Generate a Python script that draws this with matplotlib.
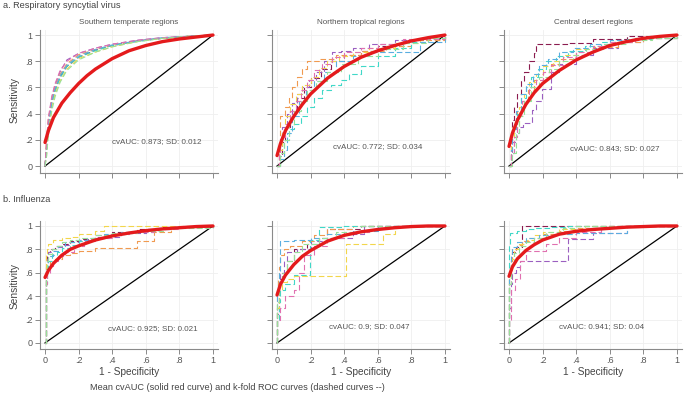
import matplotlib
matplotlib.use("Agg")
import matplotlib.pyplot as plt

plt.rcParams['font.family'] = ['Liberation Sans', 'DejaVu Sans']

# ---------------- data ----------------
fold_colors = ['#8b1c4f', '#9b5fc0', '#f09a50', '#40d8c8', '#f2d64b', '#5aaee0', '#e070b0', '#98e098']
tick_vals = [0, 0.2, 0.4, 0.6, 0.8, 1]
tick_labels = ['0', '.2', '.4', '.6', '.8', '1']

panel_titles = ['Southern temperate regions', 'Northern tropical regions', 'Central desert regions']
auc_texts_rsv = ['cvAUC: 0.873; SD: 0.012', 'cvAUC: 0.772; SD: 0.034', 'cvAUC: 0.843; SD: 0.027']
auc_texts_flu = ['cvAUC: 0.925; SD: 0.021', 'cvAUC: 0.9; SD: 0.047', 'cvAUC: 0.941; SD: 0.04']

# RSV - southern temperate (smooth k-fold curves on common FPR grid)
rsv_south_fpr = [0, .01, .02, .04, .06, .09, .13, .2, .3, .4, .55, .7, .85, 1]
rsv_south_tpr = [
    [0, .14, .31, .48, .58, .68, .76, .83, .885, .92, .955, .975, .99, 1],
    [0, .18, .35, .52, .62, .72, .81, .86, .9, .93, .96, .98, .99, 1],
    [0, .22, .36, .5, .6, .7, .78, .85, .89, .92, .955, .975, .99, 1],
    [0, .12, .3, .47, .57, .67, .76, .83, .88, .92, .95, .975, .99, 1],
    [0, .1, .27, .44, .55, .65, .74, .82, .87, .91, .95, .975, .99, 1],
    [0, .15, .32, .49, .59, .69, .77, .84, .89, .925, .955, .98, .99, 1],
    [0, .2, .37, .53, .63, .73, .8, .86, .9, .93, .96, .98, .99, 1],
    [0, .08, .25, .42, .53, .64, .73, .81, .87, .91, .95, .975, .99, 1],
]
rsv_south_mean_fpr = [0, .02, .05, .1, .15, .2, .25, .3, .4, .5, .6, .7, .8, .9, 1]
rsv_south_mean_tpr = [.18, .27, .37, .48, .56, .63, .69, .74, .82, .88, .92, .95, .97, .985, 1]

# RSV - northern tropical (step curves)
rsv_north_fpr = [
    [0, .01, .03, .05, .08, .12, .16, .2, .26, .32, .4, .5, .6, .75, .9, 1],
    [0, .01, .03, .06, .09, .12, .15, .19, .23, .28, .33, .38, .45, .55, .7, .85, 1],
    [0, .01, .02, .05, .07, .09, .12, .15, .18, .25, .35, .5, .65, .8, 1],
    [0, .02, .04, .07, .1, .14, .18, .22, .27, .32, .38, .43, .5, .6, .7, .8, .9, 1],
    [0, .01, .03, .05, .08, .11, .15, .2, .25, .3, .37, .45, .55, .7, .85, 1],
    [0, .02, .04, .06, .09, .13, .17, .22, .28, .35, .45, .55, .8, .85, 1],
    [0, .01, .02, .05, .08, .11, .14, .18, .22, .27, .33, .4, .5, .6, .75, 1],
    [0, .02, .04, .07, .1, .14, .18, .23, .3, .38, .48, .6, .75, .9, 1],
]
rsv_north_tpr = [
    [0, .08, .18, .3, .42, .52, .6, .67, .74, .8, .85, .88, .92, .96, .99, 1],
    [0, .15, .3, .4, .48, .55, .6, .66, .72, .8, .87, .88, .9, .93, .96, .98, 1],
    [0, .1, .38, .45, .52, .6, .68, .74, .8, .82, .85, .88, .92, .96, 1],
    [0, .08, .2, .28, .32, .38, .45, .52, .58, .62, .66, .7, .76, .84, .9, .95, .98, 1],
    [0, .12, .25, .38, .47, .55, .62, .68, .75, .8, .84, .87, .9, .94, .97, 1],
    [0, .05, .12, .25, .38, .5, .58, .65, .72, .8, .84, .87, .87, .95, 1],
    [0, .1, .22, .32, .42, .5, .58, .66, .73, .78, .83, .87, .9, .93, .97, 1],
    [0, .1, .2, .32, .42, .5, .58, .65, .72, .78, .84, .89, .94, .98, 1],
]
rsv_north_mean_fpr = [0, .02, .05, .1, .15, .2, .3, .4, .5, .6, .7, .8, .9, 1]
rsv_north_mean_tpr = [.08, .17, .27, .38, .47, .55, .67, .76, .83, .88, .92, .955, .98, 1]

# RSV - central desert
rsv_desert_fpr = [
    [0, .01, .02, .03, .05, .07, .09, .12, .15, .16, .36, .5, .7, 1],
    [0, .01, .02, .04, .06, .085, .135, .16, .195, .25, .3, .4, .5, .65, .8, 1],
    [0, .01, .02, .05, .08, .11, .15, .2, .25, .3, .4, .5, .65, .8, 1],
    [0, .01, .03, .05, .07, .1, .13, .17, .22, .28, .35, .45, .55, .7, .85, 1],
    [0, .01, .03, .06, .09, .12, .16, .2, .26, .32, .4, .5, .6, .75, .9, 1],
    [0, .01, .02, .04, .07, .1, .14, .18, .23, .3, .38, .48, .6, .75, 1],
    [0, .01, .03, .05, .08, .12, .16, .2, .25, .32, .4, .5, .6, .75, 1],
    [0, .02, .04, .06, .09, .13, .18, .24, .3, .38, .46, .56, .7, .85, 1],
]
rsv_desert_tpr = [
    [0, .2, .35, .45, .55, .65, .72, .8, .86, .935, .94, .97, .99, 1],
    [0, .08, .18, .25, .3, .33, .43, .5, .59, .72, .78, .85, .9, .95, .98, 1],
    [0, .2, .3, .42, .5, .58, .66, .72, .78, .82, .87, .91, .95, .98, 1],
    [0, .1, .25, .4, .52, .6, .68, .74, .8, .84, .88, .92, .95, .97, .99, 1],
    [0, .15, .3, .45, .55, .64, .7, .76, .8, .85, .89, .92, .95, .98, .99, 1],
    [0, .12, .28, .42, .55, .63, .7, .77, .82, .87, .9, .93, .96, .98, 1],
    [0, .1, .22, .38, .5, .6, .66, .72, .77, .83, .87, .92, .95, .98, 1],
    [0, .1, .25, .38, .5, .6, .68, .74, .8, .85, .89, .93, .96, .98, 1],
]
rsv_desert_mean_fpr = [0, .02, .05, .1, .15, .2, .3, .4, .5, .6, .7, .8, .9, 1]
rsv_desert_mean_tpr = [.15, .25, .35, .47, .56, .63, .73, .81, .87, .92, .95, .975, .99, 1]

# Influenza - southern temperate
flu_south_fpr = [
    [0, .005, .01, .02, .03, .06, .1, .15, .22, .3, .4, .55, .7, 1],
    [0, .005, .01, .02, .04, .07, .1, .15, .2, .3, .45, .6, .75, 1],
    [0, .005, .01, .03, .06, .1, .15, .2, .3, .55, .65, .75, .8, 1],
    [0, .005, .01, .02, .04, .07, .1, .15, .2, .28, .38, .5, .65, .8, 1],
    [0, .005, .01, .02, .05, .1, .15, .2, .3, .35, 1],
    [0, .005, .01, .02, .05, .08, .12, .18, .25, .35, .45, .6, .75, 1],
    [0, .005, .01, .03, .05, .08, .12, .17, .23, .3, .4, .5, .65, .8, 1],
    [0, .005, .01, .02, .04, .07, .1, .15, .2, .3, .4, .55, .7, 1],
]
flu_south_tpr = [
    [0, .65, .75, .78, .8, .83, .85, .87, .89, .92, .95, .97, .99, 1],
    [0, .6, .72, .78, .8, .82, .84, .86, .88, .91, .94, .97, .99, 1],
    [0, .55, .65, .7, .72, .75, .77, .79, .81, .87, .95, .98, 1, 1],
    [0, .5, .62, .7, .75, .78, .81, .84, .87, .9, .93, .95, .98, .99, 1],
    [0, .75, .8, .85, .88, .9, .91, .93, .96, 1, 1],
    [0, .58, .68, .74, .79, .83, .86, .88, .9, .93, .95, .97, .99, 1],
    [0, .5, .6, .66, .7, .74, .78, .83, .87, .9, .93, .95, .97, .99, 1],
    [0, .6, .7, .76, .8, .83, .86, .88, .9, .92, .94, .96, .98, 1],
]
flu_south_mean_fpr = [0, .02, .05, .1, .15, .2, .3, .4, .5, .6, .7, .8, .9, 1]
flu_south_mean_tpr = [.56, .62, .68, .75, .8, .83, .88, .915, .94, .96, .975, .985, .995, 1]

# Influenza - northern tropical
flu_north_fpr = [
    [0, 0, .01, .02, .03, .06, .1, .18, .25, .3, .5, 1],
    [0, 0, .01, .02, .04, .06, .12, .2, .3, .45, .52, 1],
    [0, 0, .005, .01, .02, .04, .08, .15, .22, .3, .45, 1],
    [0, 0, .01, .02, .05, .1, .196, .25, .38, 1],
    [0, 0, .01, .03, .06, .1, .41, .63, .7, 1],
    [0, 0, .01, .02, .05, .1, .2, .3, .45, .6, 1],
    [0, 0, .02, .05, .1, .13, .16, .22, .3, .4, .55, 1],
    [0, 0, .01, .03, .06, .1, .15, .25, .35, .5, 1],
]
flu_north_tpr = [
    [0, .3, .5, .55, .6, .7, .8, .85, .9, .97, 1, 1],
    [0, .25, .45, .6, .7, .78, .8, .87, .9, .93, 1, 1],
    [0, .4, .55, .65, .75, .8, .83, .87, .92, .97, 1, 1],
    [0, .2, .35, .45, .5, .58, .88, .99, 1, 1],
    [0, .3, .45, .52, .55, .57, .85, .93, 1, 1],
    [0, .4, .6, .87, .87, .88, .9, .93, .96, 1, 1],
    [0, .2, .3, .4, .45, .6, .75, .83, .9, .95, 1, 1],
    [0, .35, .5, .6, .7, .78, .85, .9, .95, 1, 1],
]
flu_north_mean_fpr = [0, .02, .05, .1, .15, .2, .3, .4, .5, .6, .7, .8, .9, 1]
flu_north_mean_tpr = [.41, .5, .58, .67, .74, .79, .87, .92, .95, .97, .985, .995, 1, 1]

# Influenza - central desert
flu_desert_fpr = [
    [0, 0, .01, .02, .04, .075, 1],
    [0, 0, .01, .02, .04, .065, .35, .5, .7, 1],
    [0, 0, .01, .02, .05, .08, .12, .2, .3, .4, .6, 1],
    [0, 0, .005, .03, .05, .1, .15, .25, .35, 1],
    [0, 0, .01, .03, .06, .1, .15, .2, .3, .45, 1],
    [0, 0, .01, .02, .05, .1, .18, .28, .4, .7, 1],
    [0, 0, .01, .035, .065, .1, .22, .3, .4, .55, 1],
    [0, 0, .01, .03, .06, .1, .15, .22, .32, .4, 1],
]
flu_desert_tpr = [
    [0, .5, .7, .78, .82, 1, 1],
    [0, .3, .5, .6, .65, .7, .89, .94, 1, 1],
    [0, .55, .7, .8, .84, .87, .9, .93, .96, .98, 1, 1],
    [0, .85, .94, .94, .96, .97, .98, .99, 1, 1],
    [0, .6, .72, .8, .85, .88, .92, .95, .97, 1, 1],
    [0, .6, .75, .82, .86, .9, .92, .93, .94, 1, 1],
    [0, .2, .45, .55, .7, .79, .85, .9, .95, 1, 1],
    [0, .5, .68, .77, .83, .86, .9, .95, .98, 1, 1],
]
flu_desert_mean_fpr = [0, .02, .05, .1, .15, .2, .3, .4, .5, .6, .7, .8, .9, 1]
flu_desert_mean_tpr = [.57, .65, .72, .79, .84, .88, .93, .955, .97, .98, .99, .995, 1, 1]

# ---------------- layout ----------------
W, H = 685, 395
fig = plt.figure(figsize=(W / 100, H / 100), dpi=100)
fig.patch.set_facecolor('white')

TEXT = '#555555'
AXC = '#8a8a8a'
col_lefts = [40, 272, 504]
ax_w = 178
rows = [(29.8, 142.8), (221.3, 127.5)]


def make_ax(left, top, h):
    return fig.add_axes([left / W, 1 - (top + h) / H, ax_w / W, h / H])


def style(ax, show_y, show_x):
    ax.set_xlim(-0.03, 1.03)
    ax.set_ylim(-0.05, 1.04)
    for s in ['top', 'right']:
        ax.spines[s].set_visible(False)
    for s in ['left', 'bottom']:
        ax.spines[s].set_color(AXC)
        ax.spines[s].set_linewidth(0.8)
    ax.set_xticks(tick_vals)
    ax.set_yticks(tick_vals)
    ax.set_xticklabels(tick_labels if show_x else [])
    ax.set_yticklabels(tick_labels if show_y else [])
    ax.tick_params(axis='both', direction='out', length=3.5, width=0.7, color=AXC,
                   labelsize=6.5, labelcolor=TEXT, pad=2)
    ax.grid(True, color='#efefef', linewidth=0.6)
    ax.set_axisbelow(True)


def draw(ax, fpr_list, tpr_list, mean_fpr, mean_tpr, steps):
    ax.plot([0, 1], [0, 1], color='black', linewidth=0.9, zorder=2)
    for i, (fx, ty) in enumerate(zip(fpr_list, tpr_list)):
        ax.plot(fx, ty, color=fold_colors[i % len(fold_colors)], linewidth=0.8,
                linestyle=(0, (5, 2.5)), drawstyle='steps-post' if steps else 'default', zorder=3)
    ax.plot(mean_fpr, mean_tpr, color='#e41a1c', linewidth=2.4, zorder=4,
            solid_capstyle='round')


rsv_sets = [
    (rsv_south_tpr, rsv_south_mean_fpr, rsv_south_mean_tpr, False),
    (rsv_north_tpr, rsv_north_mean_fpr, rsv_north_mean_tpr, True),
    (rsv_desert_tpr, rsv_desert_mean_fpr, rsv_desert_mean_tpr, True),
]
rsv_fprs = [[rsv_south_fpr] * len(rsv_south_tpr), rsv_north_fpr, rsv_desert_fpr]
flu_sets = [
    (flu_south_fpr, flu_south_tpr, flu_south_mean_fpr, flu_south_mean_tpr),
    (flu_north_fpr, flu_north_tpr, flu_north_mean_fpr, flu_north_mean_tpr),
    (flu_desert_fpr, flu_desert_tpr, flu_desert_mean_fpr, flu_desert_mean_tpr),
]
rsv_text_pos = [(0.397, 0.185), (0.335, 0.147), (0.363, 0.13)]
flu_text_pos = [(0.373, 0.12), (0.31, 0.14), (0.30, 0.14)]

for c in range(3):
    ax = make_ax(col_lefts[c], rows[0][0], rows[0][1])
    style(ax, c == 0, False)
    tpr_l, mf, mt, steps = rsv_sets[c]
    draw(ax, rsv_fprs[c], tpr_l, mf, mt, steps)
    ax.text(rsv_text_pos[c][0], rsv_text_pos[c][1], auc_texts_rsv[c], fontsize=5.8,
            color=TEXT, va='center', ha='left')
    ax.set_title(panel_titles[c], fontsize=5.8, color=TEXT, pad=4)

for c in range(3):
    ax = make_ax(col_lefts[c], rows[1][0], rows[1][1])
    style(ax, c == 0, True)
    fx, ty, mf, mt = flu_sets[c]
    draw(ax, fx, ty, mf, mt, True)
    ax.text(flu_text_pos[c][0], flu_text_pos[c][1], auc_texts_flu[c], fontsize=5.8,
            color=TEXT, va='center', ha='left')
    fig.text((col_lefts[c] + 5 + 84) / W, 1 - 372 / H, '1 - Specificity', fontsize=7.3,
             color='#444444', ha='center', va='center')

fig.text(15 / W, 1 - 100 / H, 'Sensitivity', rotation=90, fontsize=7.3, color='#444444',
         ha='center', va='center')
fig.text(15 / W, 1 - 286 / H, 'Sensitivity', rotation=90, fontsize=7.3, color='#444444',
         ha='center', va='center')
fig.text(3 / W, 1 - 6 / H, 'a. Respiratory syncytial virus', fontsize=6.6, color='#444444',
         ha='left', va='center')
fig.text(3 / W, 1 - 200 / H, 'b. Influenza', fontsize=6.6, color='#444444',
         ha='left', va='center')
fig.text(90 / W, 1 - 388 / H,
         'Mean cvAUC (solid red curve) and k-fold ROC curves (dashed curves --)',
         fontsize=6.6, color='#444444', ha='left', va='center')

fig.savefig('out.png', dpi=100, facecolor='white')
